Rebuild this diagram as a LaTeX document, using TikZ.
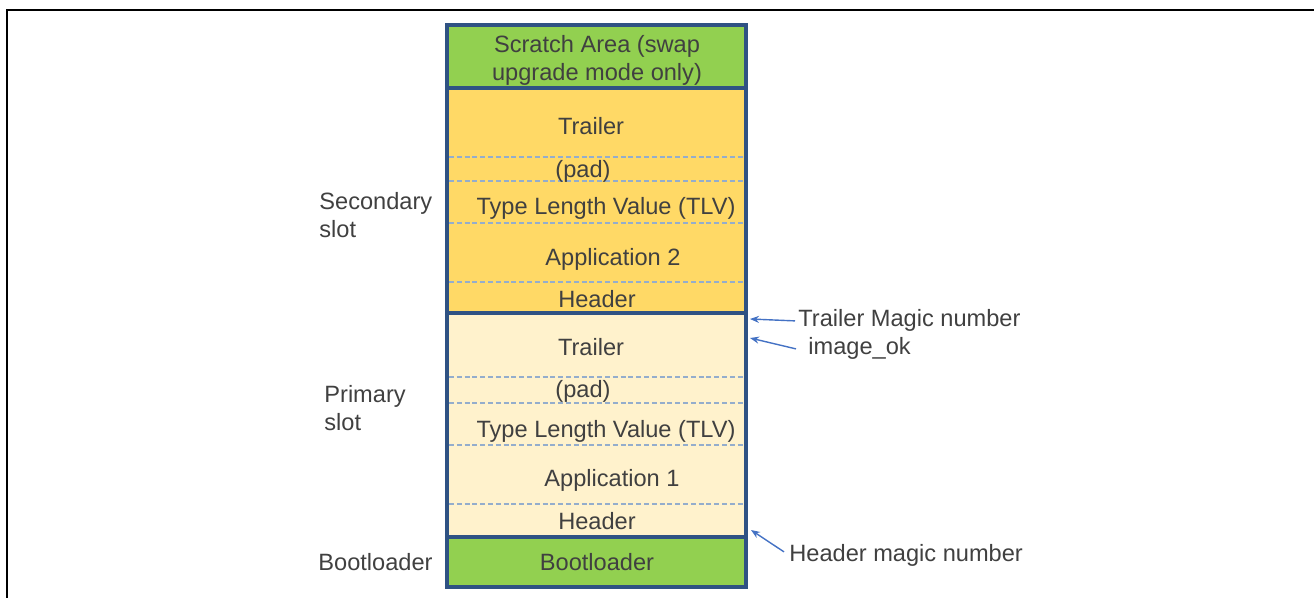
\documentclass[tikz,border=0pt]{standalone}
\usepackage{fontspec}
\setmainfont{Liberation Sans}
\usetikzlibrary{arrows.meta}
\definecolor{grn}{HTML}{92D050}
\definecolor{yel}{HTML}{FFD966}
\definecolor{lyel}{HTML}{FFF2CC}
\definecolor{navy}{HTML}{2F5283}
\definecolor{dsh}{HTML}{94ADCC}
\definecolor{txt}{HTML}{404040}
\definecolor{arrc}{HTML}{4472C4}
\begin{document}
\begin{tikzpicture}[x=0.5pt,y=-0.5pt,
  lbl/.style={font=\fontsize{11.8}{14}\selectfont, text=txt, inner sep=0pt},
  sepline/.style={dsh, line width=0.55pt, dash pattern=on 2.5pt off 1.4pt},
  border/.style={navy, line width=1.9pt},
  arr/.style={arrc, line width=0.7pt, -{Stealth[length=4.5pt,width=3.5pt]}}]
\useasboundingbox (0,0) rectangle (1314,598);
\begin{scope}
\clip (0,0) rectangle (1314,598);
\draw[line width=1pt] (7,610) -- (7,10) -- (1330,10);
\end{scope}
% regions
\fill[grn]  (447,25)  rectangle (746,88);
\fill[yel]  (447,88)  rectangle (746,313);
\fill[lyel] (447,313) rectangle (746,537);
\fill[grn]  (447,537) rectangle (746,587);
% dashed separators
\foreach \yy in {157,181,223,282,377,403,445,504}
  \draw[sepline] (449,\yy) -- (744,\yy);
% borders
\draw[border] (447,25) rectangle (746,587);
\draw[border] (447,88) -- (746,88);
\draw[border] (447,313) -- (746,313);
\draw[border] (447,537) -- (746,537);
% texts inside the stack
\node[lbl, align=center] (scratch) at (597,60) {Scratch Area (swap\\upgrade mode only)};
\node[lbl, anchor=base] (trl2) at (591,135) {Trailer};
\node[lbl, anchor=base] (pad2) at (583,178) {(pad)};
\node[lbl, anchor=base] (tlv2) at (606,215) {Type Length Value (TLV)};
\node[lbl, anchor=base] (app2) at (613,266) {Application 2};
\node[lbl, anchor=base] (hdr2) at (597,308) {Header};
\node[lbl, anchor=base] (trl1) at (591,356) {Trailer};
\node[lbl, anchor=base] (pad1) at (583,398) {(pad)};
\node[lbl, anchor=base] (tlv1) at (606,438) {Type Length Value (TLV)};
\node[lbl, anchor=base] (app1) at (612,487) {Application 1};
\node[lbl, anchor=base] (hdr1) at (597,530) {Header};
\node[lbl, anchor=base] (boot) at (597,571) {Bootloader};
% left labels
\node[lbl, align=left, anchor=west] (seclbl) at (319,215) {Secondary\\slot};
\node[lbl, align=left, anchor=west] (prilbl) at (324,408) {Primary\\slot};
\node[lbl, anchor=base east] (bootlbl) at (433,571) {Bootloader};
% right labels
\node[lbl, anchor=base west] (tmn) at (798,327) {Trailer Magic number};
\node[lbl, anchor=base west] (iok) at (808,355) {image\_ok};
\node[lbl, anchor=base west] (hmn) at (789,562) {Header magic number};
% arrow targets
\coordinate (tA) at (750,319);
\coordinate (tB) at (750,338);
\coordinate (tC) at (751,530);
\draw[arr] ([xshift=-1.5pt]tmn.west) -- (tA);
\draw[arr] ([xshift=-6pt]iok.west) -- (tB);
\draw[arr] ([xshift=-2.5pt,yshift=2pt]hmn.west) -- (tC);
\end{tikzpicture}
\end{document}
